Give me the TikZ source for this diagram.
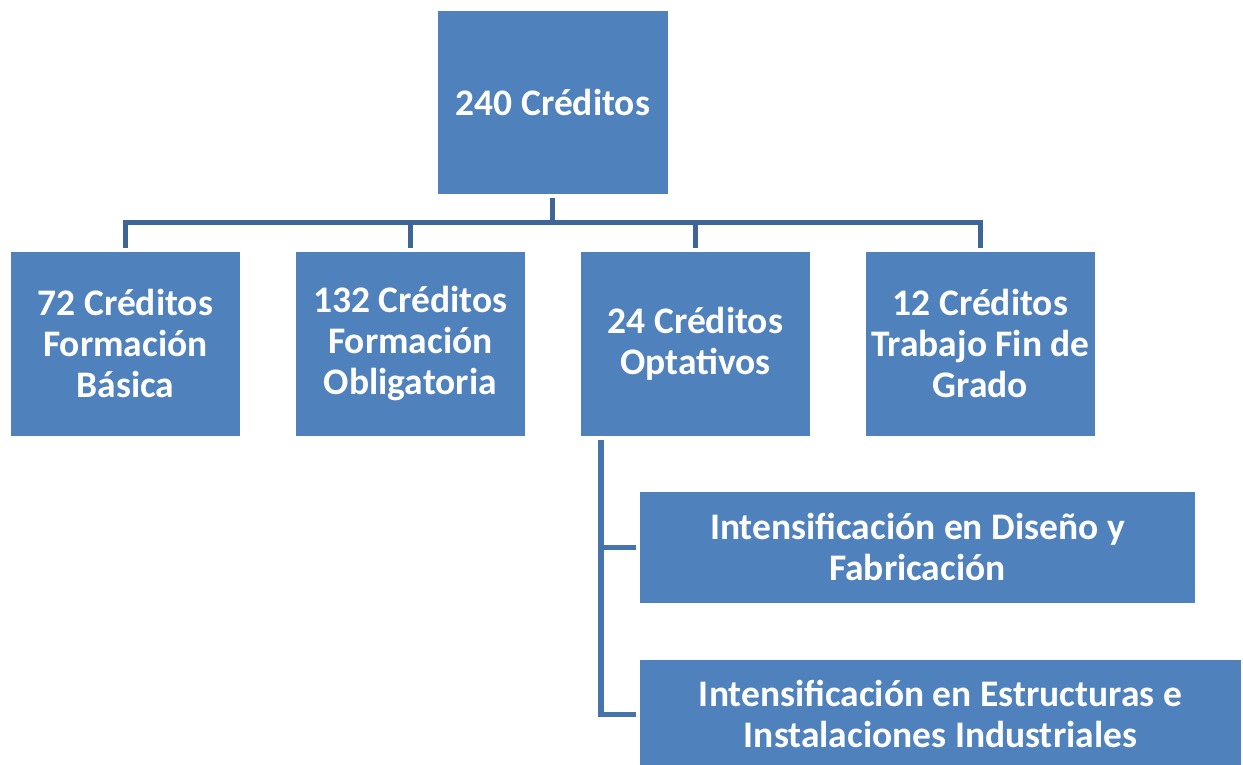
\documentclass[tikz,border=0pt]{standalone}
\usepackage{fontspec}
\setmainfont{Carlito}
\definecolor{boxblue}{HTML}{4F81BD}
\definecolor{linetop}{HTML}{3F6496}
\definecolor{linelow}{HTML}{4673AC}
\tikzset{
  box/.style={fill=boxblue, draw=white, line width=0.8pt, text=white, align=center,
    anchor=north west, inner sep=0pt,
    font=\fontsize{37.5}{41}\selectfont\bfseries},
  conn/.style={draw=linetop, line width=5pt, line cap=rect},
  connlow/.style={draw=linelow, line width=5.5pt, line cap=rect},
}
\begin{document}
\begin{tikzpicture}[x=1pt,y=-1pt]
\useasboundingbox (0,0) rectangle (1243,765);
\node[box, minimum width=231pt, minimum height=184pt] (top) at (437,10) {240 Créditos};
\node[box, minimum width=230pt, minimum height=185pt] (b1) at (10,251) {72 Créditos\\Formación\\Básica};
\node[box, minimum width=230pt, minimum height=185pt] (b2) at (295,251) {132 Créditos\\Formación\\Obligatoria};
\node[box, minimum width=230pt, minimum height=185pt] (b3) at (580,251) {24 Créditos\\Optativos};
\node[box, minimum width=230pt, minimum height=185pt] (b4) at (865,251) {12 Créditos\\Trabajo Fin de\\Grado};
\node[box, minimum width=556pt, minimum height=112pt] (c1) at (639,491) {Intensificación en Diseño y\\Fabricación};
\node[box, minimum width=602pt, minimum height=110pt] (c2) at (639,659) {Intensificación en Estructuras e\\Instalaciones Industriales};
% top connectors
\draw[conn] ([yshift=-6pt]top.south) -- ++(0,22) coordinate (hub);
\foreach \b in {b1,b2,b3,b4} {
  \draw[conn] ([yshift=6pt]\b.north) |- (hub);
}
% optional branch
\coordinate (spine) at ([xshift=21pt,yshift=-6pt]b3.south west);
\draw[connlow] (spine) |- ([xshift=-6pt]c2.west);
\draw[connlow] ([xshift=-6pt]c1.west) -- (spine |- c1.west);
\end{tikzpicture}
\end{document}
